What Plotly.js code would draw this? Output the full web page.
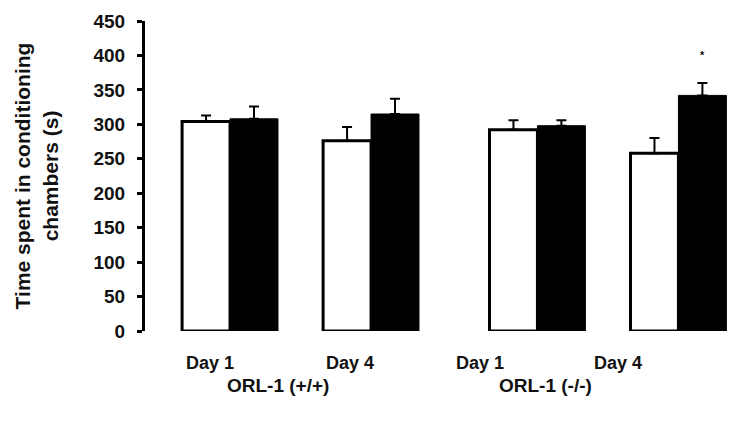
<!DOCTYPE html>
<html>
<head>
<meta charset="utf-8">
<script src="https://cdn.plot.ly/plotly-3.0.1.min.js"></script>
<style>
  body { margin: 0; background: #fff; }
  #chart { width: 750px; height: 430px; }
</style>
</head>
<body>
<div id="chart"></div>
<script>
// Place preference: time in chambers, white = saline side, black = drug side
const groupPos = [1, 2, 3.18, 4.18];
const dayLabels = ['Day 1', 'Day 4', 'Day 1', 'Day 4'];
const genotypes = ['ORL-1 (+/+)', 'ORL-1 (-/-)'];

const whiteVals = [304, 276, 292, 258];
const whiteErr = [9, 20, 14, 22];
const blackVals = [308, 315, 298, 342];
const blackErr = [18, 22, 8, 18];

const font = { family: 'Liberation Sans, Arial, sans-serif', color: '#111', weight: 'bold' };

const whiteTrace = {
    x: groupPos,
    y: whiteVals,
    type: 'bar',
    marker: { color: '#ffffff', line: { color: '#000', width: 3 } },
    error_y: { type: 'data', symmetric: false, array: whiteErr, arrayminus: [0, 0, 0, 0],
               color: '#000', thickness: 2, width: 5 },
    hoverinfo: 'y'
};

const blackTrace = {
    x: groupPos,
    y: blackVals,
    type: 'bar',
    marker: { color: '#000000', line: { color: '#000', width: 1 } },
    error_y: { type: 'data', symmetric: false, array: blackErr, arrayminus: [0, 0, 0, 0],
               color: '#000', thickness: 2, width: 5 },
    hoverinfo: 'y'
};

// x positions of the text labels under the bars
const dayLabelX = [0.86, 1.85, 2.77, 3.75];
const genoLabelX = [1.34, 3.24];

const annotations = [];
dayLabels.forEach((t, i) => {
    annotations.push({ text: t, x: dayLabelX[i], y: -0.103, xref: 'x', yref: 'paper',
        xanchor: 'center', yanchor: 'middle',
        showarrow: false, font: Object.assign({ size: 18 }, font) });
});
genotypes.forEach((t, i) => {
    annotations.push({ text: t, x: genoLabelX[i], y: -0.175, xref: 'x', yref: 'paper',
        xanchor: 'center', yanchor: 'middle',
        showarrow: false, font: Object.assign({ size: 19 }, font) });
});
annotations.push({ text: '*', x: groupPos[3] + 0.17, y: 400, xref: 'x', yref: 'y',
    xanchor: 'center', yanchor: 'middle',
    showarrow: false, font: Object.assign({ size: 11 }, font) });

const layout = {
    width: 750,
    height: 430,
    margin: { l: 145, r: 5, t: 21, b: 99 },
    paper_bgcolor: '#fff',
    plot_bgcolor: '#fff',
    showlegend: false,
    barmode: 'group',
    bargap: 0.32,
    bargroupgap: 0,
    font: font,
    xaxis: {
        range: [0.397, 4.652],
        showticklabels: false,
        ticks: '',
        showgrid: false,
        zeroline: false,
        showline: false
    },
    yaxis: {
        range: [0, 450],
        dtick: 50,
        ticks: 'outside',
        ticklen: 5,
        tickwidth: 3,
        tickcolor: '#000',
        showline: true,
        linecolor: '#000',
        linewidth: 3,
        showgrid: false,
        zeroline: false,
        ticklabelstandoff: 8,
        tickfont: Object.assign({ size: 19 }, font),
        title: {
            text: 'Time spent in conditioning<br>chambers (s)',
            font: Object.assign({ size: 21 }, font),
            standoff: 30
        }
    },
    annotations: annotations
};

Plotly.newPlot('chart', [whiteTrace, blackTrace], layout, { displayModeBar: false });
</script>
</body>
</html>
